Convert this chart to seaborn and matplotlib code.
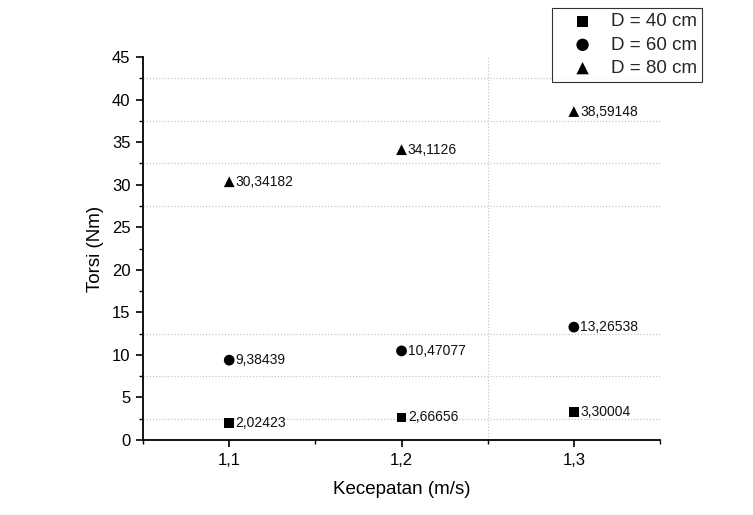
import matplotlib
matplotlib.use("Agg")
import matplotlib.pyplot as plt
from matplotlib.ticker import MultipleLocator, FixedLocator
import seaborn as sns
import pandas as pd

# Measured torque for each speed and diameter
kecepatan = [1.1, 1.2, 1.3]
torsi_40 = [2.02423, 2.66656, 3.30004]
torsi_60 = [9.38439, 10.47077, 13.26538]
torsi_80 = [30.34182, 34.1126, 38.59148]
series_labels = ["D = 40 cm", "D = 60 cm", "D = 80 cm"]
value_labels_40 = ["2,02423", "2,66656", "3,30004"]
value_labels_60 = ["9,38439", "10,47077", "13,26538"]
value_labels_80 = ["30,34182", "34,1126", "38,59148"]
x_tick_labels = ["1,1", "1,2", "1,3"]

df = pd.DataFrame({
    "Kecepatan": kecepatan * 3,
    "Torsi": torsi_40 + torsi_60 + torsi_80,
    "D": [series_labels[0]] * 3 + [series_labels[1]] * 3 + [series_labels[2]] * 3,
    "label": value_labels_40 + value_labels_60 + value_labels_80,
})

sns.set_theme(style="white")
plt.rcParams["font.family"] = ["Liberation Sans", "DejaVu Sans"]

fig = plt.figure(figsize=(7.53, 5.15), dpi=100)
ax = fig.add_axes([0.190, 0.1456, 0.6865, 0.7437])

markers = {series_labels[0]: "s", series_labels[1]: "o", series_labels[2]: "^"}
sizes_by_series = {series_labels[0]: 48, series_labels[1]: 60, series_labels[2]: 60}
for name in series_labels:
    sub = df[df["D"] == name]
    sns.scatterplot(data=sub, x="Kecepatan", y="Torsi", marker=markers[name],
                    s=sizes_by_series[name], color="black", edgecolor="none",
                    ax=ax, label=name, zorder=3)

for _, row in df.iterrows():
    ax.annotate(row["label"], (row["Kecepatan"], row["Torsi"]),
                xytext=(4.5, 0), textcoords="offset points",
                va="center", ha="left", fontsize=10, color="#111111")

ax.set_xlim(1.05, 1.35)
ax.set_ylim(0, 45)
ax.xaxis.set_major_locator(FixedLocator(kecepatan))
ax.set_xticklabels(x_tick_labels)
ax.xaxis.set_minor_locator(FixedLocator([1.05, 1.15, 1.25, 1.35]))
ax.yaxis.set_major_locator(MultipleLocator(5))
ax.yaxis.set_minor_locator(MultipleLocator(2.5))

ax.tick_params(axis="both", which="major", direction="out", length=5, width=1.2,
               color="black", labelsize=12, labelcolor="black", pad=4,
               bottom=True, left=True)
ax.tick_params(axis="both", which="minor", direction="out", length=3, width=1.0,
               color="black", bottom=True, left=True)

for side in ["top", "right"]:
    ax.spines[side].set_visible(False)
for side in ["left", "bottom"]:
    ax.spines[side].set_color("black")
    ax.spines[side].set_linewidth(1.3)

# Dotted reference lines
grid_style = dict(color="#c8c8c8", linestyle=(0, (1, 1.5)), linewidth=0.9, zorder=1)
for yv in [2.5, 7.5, 12.5, 27.5, 32.5, 37.5, 42.5]:
    ax.axhline(yv, **grid_style)
ax.axvline(1.25, **grid_style)

ax.set_xlabel("Kecepatan (m/s)", fontsize=13.5, labelpad=10, color="black")
ax.set_ylabel("Torsi (Nm)", fontsize=13.5, labelpad=6, color="black")

handles, labels = ax.get_legend_handles_labels()
leg = fig.legend(handles, labels, loc="upper right",
                 bbox_to_anchor=(0.932, 0.984), fontsize=13.5, frameon=True,
                 fancybox=False, edgecolor="black", handletextpad=0.16,
                 borderpad=0.27, labelspacing=0.33, handlelength=2.67,
                 borderaxespad=0, markerscale=1.15)
leg.get_frame().set_linewidth(0.8)
if ax.get_legend():
    ax.get_legend().remove()

fig.savefig("out.png", dpi=100, facecolor="white")
